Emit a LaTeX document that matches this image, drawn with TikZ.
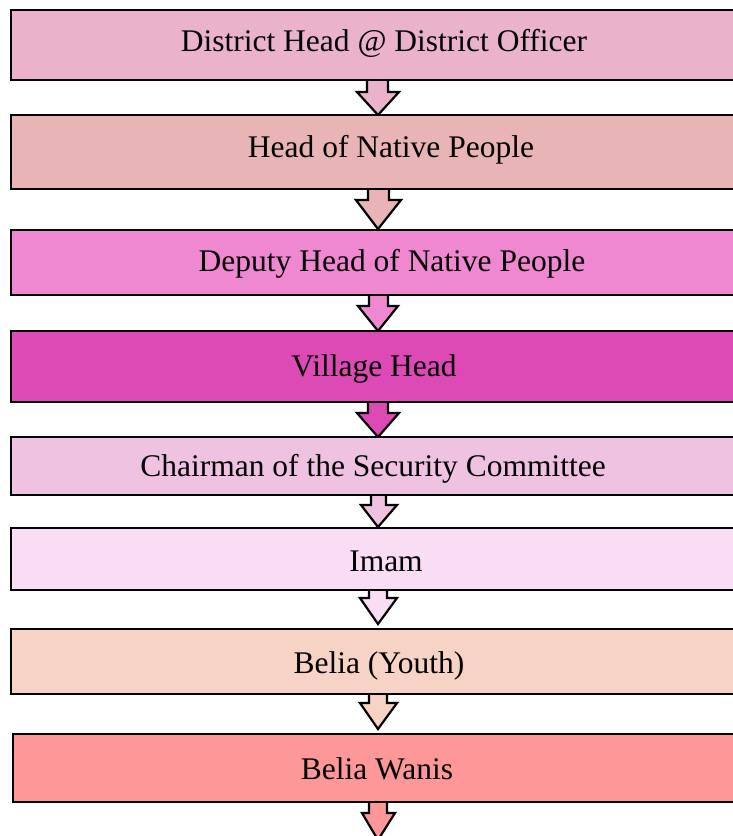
\documentclass[tikz,border=0pt]{standalone}
\usepackage{fontspec}
\setmainfont{Liberation Serif}
\definecolor{cA}{HTML}{EAB3CB}
\definecolor{cB}{HTML}{E9B4B5}
\definecolor{cC}{HTML}{EF88D1}
\definecolor{cD}{HTML}{DD4AB6}
\definecolor{cE}{HTML}{F0C2E1}
\definecolor{cF}{HTML}{F8DDF5}
\definecolor{cG}{HTML}{F6D3C5}
\definecolor{cH}{HTML}{FE9898}
\tikzset{
  levelbox/.style={draw=black, line width=2.8pt},
  levellabel/.style={font=\fontsize{31.5}{36}\selectfont, inner sep=0pt, text=black, yshift=-3pt},
  blockarrow/.style={draw=black, line width=2.2pt, line join=miter},
}
% #1 fill, #2 top y, #3 head y, #4 tip y, #5 shaft left, #6 shaft right, #7 head left, #8 head right, #9 name
\newcommand{\blockarr}[9]{%
  \coordinate (#9) at (378,#4);
  \fill[#1] (#5,#2-3) -- (#5,#3) -- (#7,#3) -- (#9) -- (#8,#3) -- (#6,#3) -- (#6,#2-3) -- cycle;
  \draw[blockarrow] (#5,#2) -- (#5,#3) -- (#7,#3) -- (#9) -- (#8,#3) -- (#6,#3) -- (#6,#2);
}
\newcommand{\levelbox}[5]{% name, fill, top, bottom, left
  \path[levelbox, fill=#2] (#5,#3) rectangle (760,#4);
  \coordinate (#1) at (#5,#3);
}
\begin{document}
\begin{tikzpicture}[x=1pt,y=-1pt]
\useasboundingbox (0,0) rectangle (733,836);
\clip (0,0) rectangle (733,836);
% arrows
\blockarr{cA}{80}{92}{115}{367}{388}{357}{399}{a1}
\blockarr{cB}{189}{200}{229}{368}{389}{356}{401}{a2}
\blockarr{cC}{295}{306}{331}{369}{388}{358}{398}{a3}
\blockarr{cD}{402}{413}{437}{368}{388}{357}{399}{a4}
\blockarr{cE}{495}{505}{527}{371}{386}{361}{397}{a5}
\blockarr{cF}{590}{598}{624}{369}{387}{360}{397}{a6}
\blockarr{cG}{694}{703}{729}{369}{387}{360}{397}{a7}
\blockarr{cH}{802}{813}{840}{369}{387}{362}{395}{a8}
% boxes
\levelbox{b1}{cA}{10}{80}{11}
\levelbox{b2}{cB}{115}{189}{11}
\levelbox{b3}{cC}{230}{295}{11}
\levelbox{b4}{cD}{331}{402}{11}
\levelbox{b5}{cE}{437}{495}{11}
\levelbox{b6}{cF}{528}{590}{11}
\levelbox{b7}{cG}{629}{694}{11}
\levelbox{b8}{cH}{734}{802}{13}
% labels
\node[levellabel] (t1) at (384,40) {District Head @ District Officer};
\node[levellabel] (t2) at (391,147) {Head of Native People};
\node[levellabel] (t3) at (392,261) {Deputy Head of Native People};
\node[levellabel] (t4) at (374,366) {Village Head};
\node[levellabel] (t5) at (373,466) {Chairman of the Security Committee};
\node[levellabel] (t6) at (386,558) {Imam};
\node[levellabel] (t7) at (379,663) {Belia (Youth)};
\node[levellabel] (t8) at (377,766) {Belia Wanis};
\end{tikzpicture}
\end{document}
